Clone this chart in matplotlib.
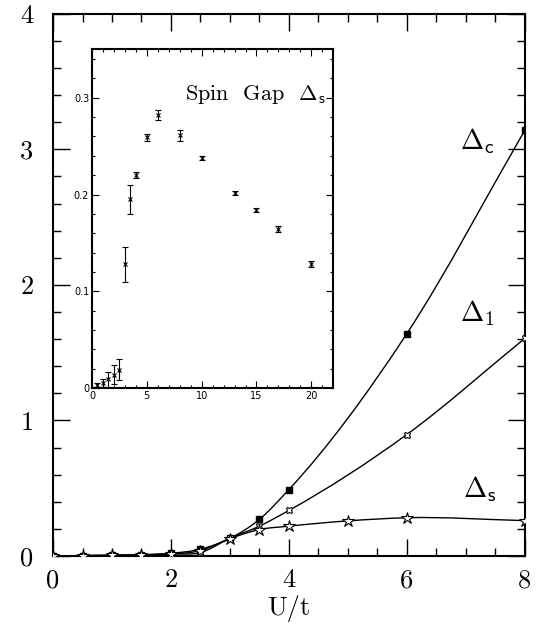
import numpy as np
import matplotlib

matplotlib.use("Agg")
import matplotlib.pyplot as plt
from matplotlib.path import Path
from matplotlib.patches import PathPatch
from matplotlib.ticker import MultipleLocator, FixedLocator, FixedFormatter

plt.rcParams["mathtext.fontset"] = "cm"

# main panel: gaps vs U/t
u_main = [0, 0.5, 1, 1.5, 2, 2.5, 3, 3.5, 4, 6, 8]
gap_c = [0, 0.003, 0.005, 0.01, 0.02, 0.05, 0.13, 0.27, 0.49, 1.64, 3.14]
gap_1 = [0, 0.003, 0.005, 0.008, 0.015, 0.025, 0.13, 0.22, 0.336, 0.896, 1.605]
u_spin = [0, 0.5, 1, 1.5, 2, 2.5, 3, 3.5, 4, 5, 6, 8]
gap_s = [0, 0.003, 0.005, 0.009, 0.014, 0.04, 0.128, 0.195, 0.22, 0.259, 0.282, 0.261]

# inset: spin gap with error bars
u_inset = [0.5, 1, 1.5, 2, 2.5, 3, 3.5, 4, 5, 6, 8, 10, 13, 15, 17, 20]
spin_inset = [0.003, 0.005, 0.009, 0.014, 0.019, 0.128, 0.195, 0.220, 0.259,
              0.282, 0.261, 0.238, 0.202, 0.184, 0.164, 0.128]
spin_err = [0.002, 0.004, 0.008, 0.010, 0.011, 0.018, 0.015, 0.003, 0.004,
            0.005, 0.006, 0.002, 0.002, 0.002, 0.003, 0.003]

main_xticks = [0, 2, 4, 6, 8]
main_yticks = [0, 1, 2, 3, 4]
inset_xticks = [0, 5, 10, 15, 20]
inset_yticks = [0, 0.1, 0.2, 0.3]
inset_ylabels = ["0", "0.1", "0.2", "0.3"]


def smooth_path(x, y):
    """Cubic Hermite curve through the points, drawn as Bezier segments."""
    x = np.asarray(x, float)
    y = np.asarray(y, float)
    m = np.gradient(y, x)
    verts = [(x[0], y[0])]
    codes = [Path.MOVETO]
    for i in range(len(x) - 1):
        h = (x[i + 1] - x[i]) / 3.0
        verts += [(x[i] + h, y[i] + h * m[i]),
                  (x[i + 1] - h, y[i + 1] - h * m[i + 1]),
                  (x[i + 1], y[i + 1])]
        codes += [Path.CURVE4] * 3
    return Path(verts, codes)


fig = plt.figure(figsize=(5.41, 6.24), dpi=100)
ax = fig.add_axes([0.098, 0.109, 0.872, 0.869])

for xs, ys in [(u_main, gap_c), (u_main, gap_1), (u_spin, gap_s)]:
    ax.add_patch(PathPatch(smooth_path(xs, ys), fill=False, lw=1.0,
                           color="black", zorder=2))

ax.plot(u_main, gap_c, ls="none", marker="s", ms=4, color="black", zorder=3)
ax.plot(u_main, gap_1, ls="none", marker="X", ms=5, mfc="white", mec="black",
        mew=0.8, zorder=3)
ax.plot(u_spin, gap_s, ls="none", marker="*", ms=9, mfc="white", mec="black",
        mew=0.8, zorder=3)

ax.set_xlim(0, 8)
ax.set_ylim(0, 4)
ax.xaxis.set_major_locator(FixedLocator(main_xticks))
ax.yaxis.set_major_locator(FixedLocator(main_yticks))
ax.xaxis.set_minor_locator(MultipleLocator(0.5))
ax.yaxis.set_minor_locator(MultipleLocator(0.2))
ax.tick_params(which="both", direction="in", top=True, right=True, width=1.0)
ax.tick_params(which="major", length=12)
ax.tick_params(which="minor", length=6)
ax.tick_params(axis="x", pad=9)
ax.tick_params(axis="y", pad=14)
for lab in ax.get_xticklabels() + ax.get_yticklabels():
    lab.set_family("cmr10")
    lab.set_fontsize(19)
for sp in ax.spines.values():
    sp.set_linewidth(1.5)

ax.set_xlabel("U/t", family="cmr10", fontsize=19, labelpad=2)

ax.text(6.9, 3.0, r"$\Delta_{\mathsf{c}}$", fontsize=20)
ax.text(6.9, 1.73, r"$\Delta_{\mathsf{1}}$", fontsize=20)
ax.text(6.95, 0.43, r"$\Delta_{\mathsf{s}}$", fontsize=20)

# inset
ins = fig.add_axes([0.170, 0.378, 0.446, 0.543])
ins.errorbar(u_inset, spin_inset, yerr=spin_err, fmt="x", ms=3, mew=0.8,
             color="black", ecolor="black", elinewidth=0.8, capsize=2.5,
             capthick=0.8)
ins.set_xlim(0, 22)
ins.set_ylim(0, 0.35)
ins.xaxis.set_major_locator(FixedLocator(inset_xticks))
ins.yaxis.set_major_locator(FixedLocator(inset_yticks))
ins.yaxis.set_major_formatter(FixedFormatter(inset_ylabels))
ins.xaxis.set_minor_locator(MultipleLocator(1))
ins.yaxis.set_minor_locator(MultipleLocator(0.02))
ins.tick_params(which="both", direction="in", top=True, right=True,
                labelsize=7, width=0.8, pad=2)
ins.tick_params(which="major", length=5)
ins.tick_params(which="minor", length=2.5)
for sp in ins.spines.values():
    sp.set_linewidth(1.5)
ins.text(0.97, 0.85, r"Spin  Gap  $\Delta_{\mathsf{s}}$", transform=ins.transAxes,
         ha="right", va="baseline", family="cmr10", fontsize=16)

fig.savefig("out.png", dpi=100)
